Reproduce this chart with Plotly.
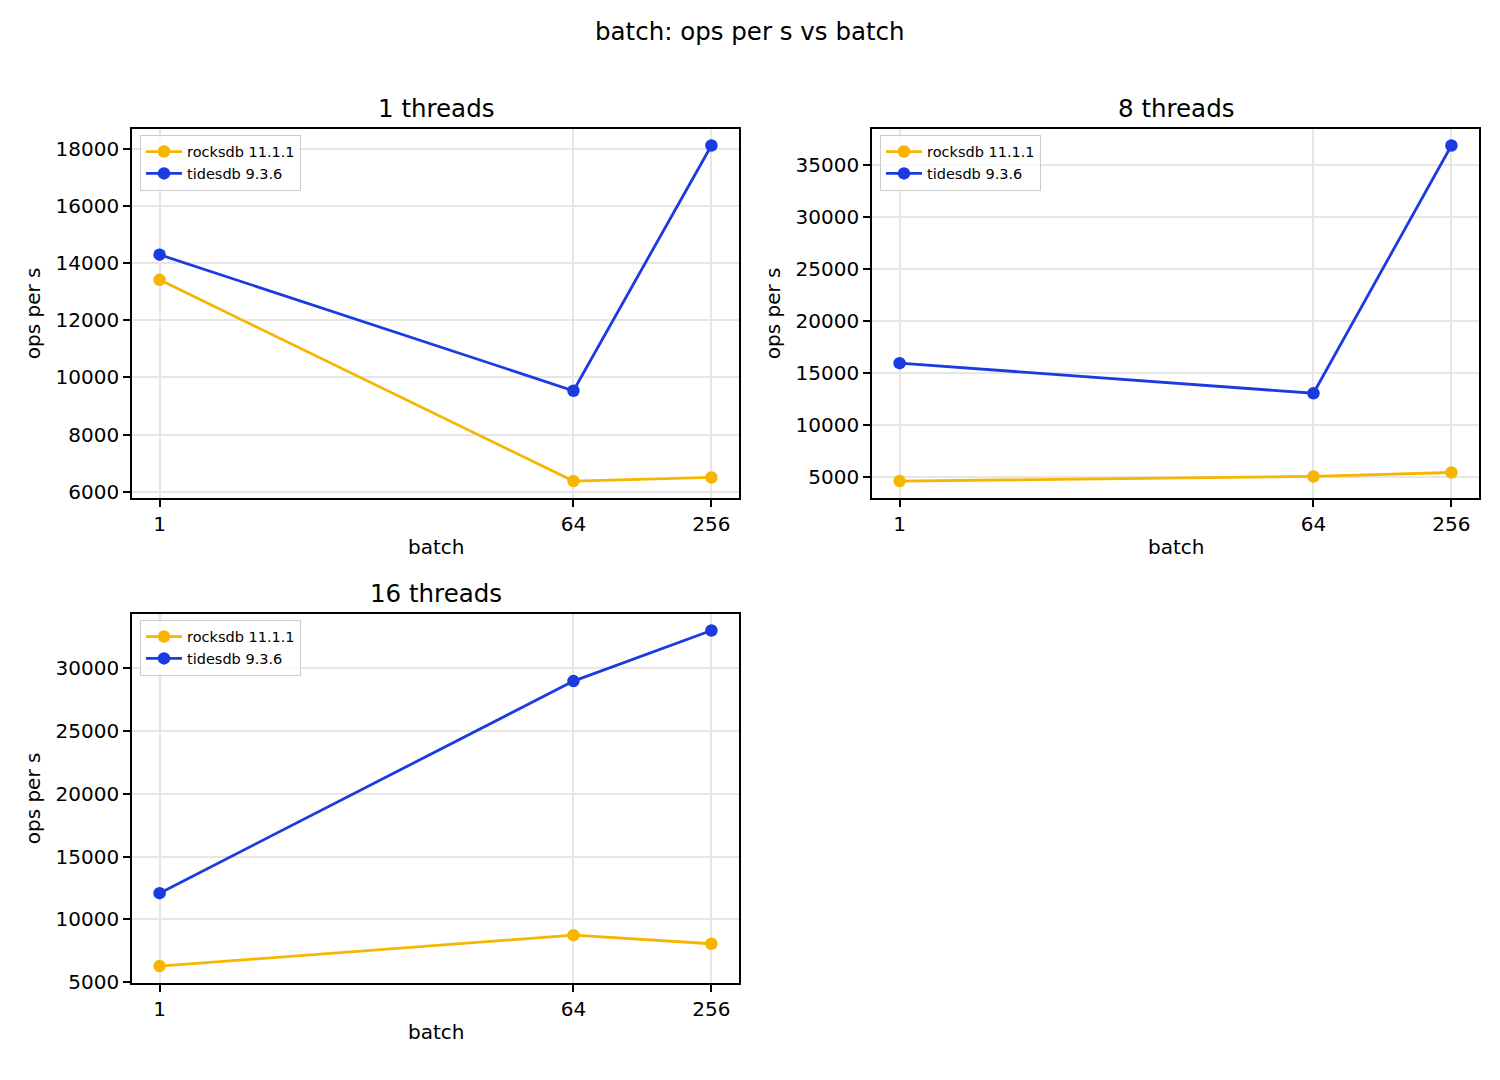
import math
import plotly.graph_objects as go

W, H = 1500, 1080

batch = [1, 64, 256]
batch_ticks = ["1", "64", "256"]
series_names = ["rocksdb 11.1.1", "tidesdb 9.3.6"]
colors = ["#f7b500", "#1b3be0"]

panel_titles = ["1 threads", "8 threads", "16 threads"]
rocksdb_ops = [
    [13421, 6371, 6498],
    [4587, 5032, 5413],
    [6266, 8734, 8049],
]
tidesdb_ops = [
    [14301, 9537, 18127],
    [15922, 13029, 36844],
    [12083, 28998, 33033],
]
y_dtick = [2000, 5000, 5000]

# panel boxes in pixels: (left, right, top, bottom)
boxes = [(132, 739, 130, 503), (872, 1479, 130, 503), (132, 739, 620, 993)]
legend_pos = [(140, 136), (880, 136), (140, 626)]

FONT = "DejaVu Sans"

fig = go.Figure()
layout = dict(
    width=W, height=H,
    margin=dict(l=0, r=0, t=0, b=0),
    paper_bgcolor="white", plot_bgcolor="white",
    font=dict(family=FONT, color="black", size=20),
    annotations=[],
)

lx0, lx1 = math.log10(batch[0]), math.log10(batch[-1])
xm = 0.05 * (lx1 - lx0)

for i, (title, rock, tide) in enumerate(zip(panel_titles, rocksdb_ops, tidesdb_ops)):
    sfx = "" if i == 0 else str(i + 1)
    xa, ya = "x" + sfx, "y" + sfx
    leg = "legend" + sfx
    for name, vals, col in zip(series_names, [rock, tide], colors):
        fig.add_trace(go.Scatter(
            x=batch, y=vals, name=name, mode="lines+markers",
            line=dict(color=col, width=2.8),
            marker=dict(color=col, size=12.5),
            xaxis=xa, yaxis=ya, legend=leg,
        ))
    l, r, t, b = boxes[i]
    allv = rock + tide
    lo, hi = min(allv), max(allv)
    ym = 0.05 * (hi - lo)
    axis_common = dict(
        showline=True, linecolor="black", linewidth=1.6, mirror=True,
        ticks="outside", ticklen=7, tickwidth=1.6, tickcolor="black",
        showgrid=True, gridcolor="#e6e6e6", gridwidth=1.5,
        zeroline=False, tickfont=dict(size=20, family=FONT, color="black"),
    )
    layout["xaxis" + sfx] = dict(
        axis_common, type="log", domain=[l / W, r / W],
        range=[lx0 - xm, lx1 + xm], anchor=ya,
        tickmode="array", tickvals=batch, ticktext=batch_ticks,
    )
    layout["yaxis" + sfx] = dict(
        axis_common, domain=[1 - b / H, 1 - t / H],
        range=[lo - ym, hi + ym], anchor=xa,
        dtick=y_dtick[i], tickformat="d",
    )
    lpx, lpy = legend_pos[i]
    layout[leg] = dict(
        x=lpx / W, y=1 - lpy / H, xanchor="left", yanchor="top",
        font=dict(size=14.5, family=FONT, color="black"),
        bgcolor="rgba(255,255,255,0.8)", bordercolor="#cccccc", borderwidth=1,
        tracegroupgap=0, itemwidth=36,
    )
    cx = (l + r) / 2
    layout["annotations"] += [
        dict(text=title, x=cx / W, y=1 - (t - 20) / H, xref="paper", yref="paper",
             xanchor="center", yanchor="middle", showarrow=False,
             font=dict(size=24.5, family=FONT, color="black")),
        dict(text="batch", x=cx / W, y=1 - (b + 50) / H, xref="paper", yref="paper",
             xanchor="center", yanchor="middle", showarrow=False,
             font=dict(size=20, family=FONT, color="black")),
        dict(text="ops per s", x=(l - 99) / W, y=1 - ((t + b) / 2) / H, xref="paper", yref="paper",
             xanchor="center", yanchor="middle", showarrow=False, textangle=-90,
             font=dict(size=20, family=FONT, color="black")),
    ]

layout["annotations"].append(dict(
    text="batch: ops per s vs batch", x=0.5, y=1 - 32 / H, xref="paper", yref="paper",
    xanchor="center", yanchor="middle", showarrow=False,
    font=dict(size=24.5, family=FONT, color="black")))

fig.update_layout(**layout)
fig.write_html(
    "out.html",
    post_script="document.body.style.margin='0';document.documentElement.style.overflow='hidden';",
)
